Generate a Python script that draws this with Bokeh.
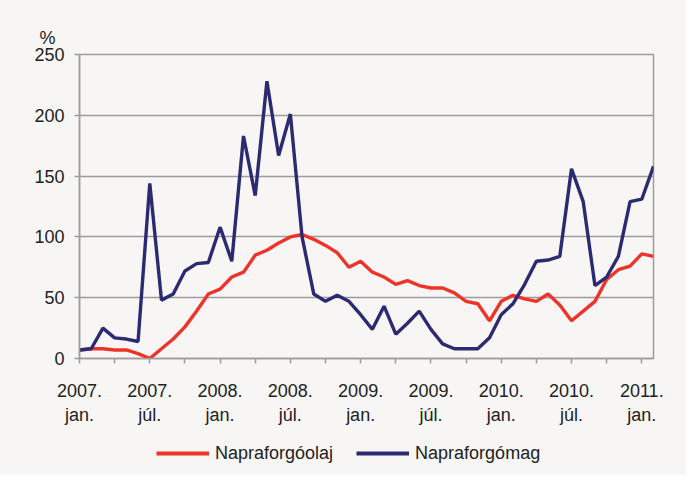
from bokeh.plotting import figure
from bokeh.layouts import column
from bokeh.models import FixedTicker, Legend, LegendItem, ColumnDataSource
from bokeh.embed import file_html
from bokeh.resources import INLINE

# monthly data, 2007 jan .. 2011 feb
months = list(range(50))
napraforgoolaj = [7, 8, 8, 7, 7, 4, 0, 8, 16, 26,
                  39, 53, 57, 67, 71, 85, 89, 95, 100, 102,
                  98, 93, 87, 75, 80, 71, 67, 61, 64, 60,
                  58, 58, 54, 47, 45, 31, 47, 52, 49, 47,
                  53, 44, 31, 39, 47, 65, 73, 76, 86, 84]
napraforgomag = [7, 8, 25, 17, 16, 14, 144, 48, 53, 72,
                 78, 79, 108, 80, 183, 134, 228, 167, 201, 100,
                 53, 47, 52, 47, 36, 24, 43, 20, 29, 39,
                 24, 12, 8, 8, 8, 17, 36, 45, 61, 80,
                 81, 84, 156, 129, 60, 67, 84, 129, 131, 158]
series_names = ["Napraforgóolaj", "Napraforgómag"]
tick_positions = [0, 3, 6, 9, 12, 15, 18, 21, 24, 27, 30, 33, 36, 39, 42, 45, 48]
tick_labels = {0: "2007.\njan.", 6: "2007.\njúl.", 12: "2008.\njan.", 18: "2008.\njúl.",
               24: "2009.\njan.", 30: "2009.\njúl.", 36: "2010.\njan.", 42: "2010.\njúl.",
               48: "2011.\njan."}
y_ticks = [0, 50, 100, 150, 200, 250]

FONT = "Liberation Sans"
FS = "18px"
BG = "#f7f6f5"
GRID = "#9c9c9c"
TXT = "#222222"
RED = "#ef3329"
BLUE = "#2c2a70"

p = figure(frame_width=574, frame_height=304, output_backend="svg", toolbar_location=None,
           x_range=(0, 49), y_range=(0, 250),
           min_border_left=79, min_border_right=33, min_border_top=54, min_border_bottom=72)
p.background_fill_color = BG
p.border_fill_color = BG
p.outline_line_color = GRID
p.outline_line_width = 1.5

# "%" unit label as left-shifted title
p.title.text = "%"
p.title.align = "left"
p.title.offset = -40
p.title.standoff = 14
p.title.text_font = FONT
p.title.text_font_size = FS
p.title.text_font_style = "normal"
p.title.text_color = TXT

src = ColumnDataSource(dict(x=months, olaj=napraforgoolaj, mag=napraforgomag))
p.line("x", "olaj", source=src, line_color=RED, line_width=3.4)
p.line("x", "mag", source=src, line_color=BLUE, line_width=3.4)

# axes
p.xaxis.ticker = FixedTicker(ticks=tick_positions)
p.xaxis.major_label_overrides = {t: tick_labels.get(t, "") for t in tick_positions}
p.yaxis.ticker = FixedTicker(ticks=y_ticks)
for ax in (p.xaxis, p.yaxis):
    ax.axis_line_color = GRID
    ax.axis_line_width = 1.5
    ax.major_tick_line_color = GRID
    ax.major_tick_line_width = 1.5
    ax.major_tick_out = 5
    ax.major_tick_in = 0
    ax.minor_tick_line_color = None
    ax.major_label_text_font = FONT
    ax.major_label_text_font_size = FS
    ax.major_label_text_color = TXT
p.xaxis.major_label_standoff = 17
p.yaxis.major_label_standoff = 10

p.xgrid.grid_line_color = None
p.ygrid.grid_line_color = GRID
p.ygrid.grid_line_width = 1.5

# legend strip below the chart (same series, drawn out of view; only legend shows)
lg = figure(frame_width=686, frame_height=45, output_backend="svg", toolbar_location=None,
            x_range=(-20, -19), y_range=(0, 1),
            min_border_left=0, min_border_right=0, min_border_top=0, min_border_bottom=0)
lg.background_fill_color = BG
lg.border_fill_color = BG
lg.outline_line_color = None
lg.axis.visible = False
lg.grid.grid_line_color = None
l1 = lg.line("x", "olaj", source=src, line_color=RED, line_width=4)
l2 = lg.line("x", "mag", source=src, line_color=BLUE, line_width=4)
legend = Legend(items=[LegendItem(label=series_names[0], renderers=[l1]),
                       LegendItem(label=series_names[1], renderers=[l2])],
                orientation="horizontal", location=(156, 11),
                glyph_width=53, glyph_height=22, label_height=22,
                label_standoff=6, spacing=23, padding=0, margin=0,
                label_text_font=FONT, label_text_font_size=FS, label_text_color=TXT,
                background_fill_alpha=0, border_line_color=None)
lg.add_layout(legend, "center")

layout = column(p, lg, spacing=0, styles={"background-color": BG})
open("out.html", "w").write(file_html(layout, INLINE))
